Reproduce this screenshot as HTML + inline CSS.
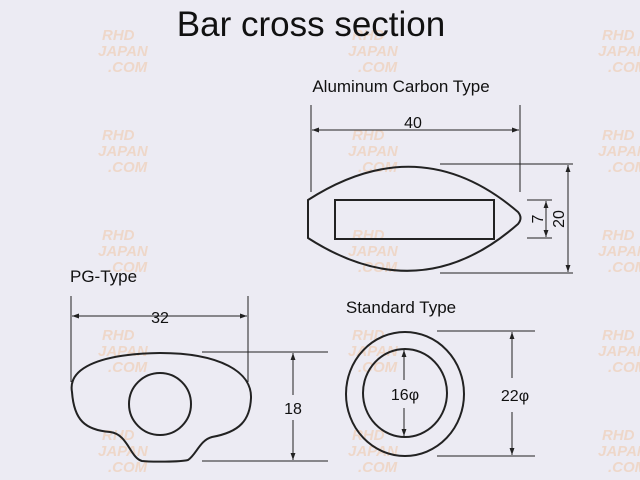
<!DOCTYPE html>
<html><head><style>
html,body{margin:0;padding:0;background:#ecebf3;}
svg{display:block;font-family:"Liberation Sans",sans-serif;}
.w{fill:#f0c8a8;font-style:italic;font-weight:bold;font-size:15px;opacity:0.55;}
</style></head><body>
<svg width="640" height="480" viewBox="0 0 640 480">
<defs>
<marker id="a" viewBox="0 0 10 10" refX="10" refY="5" markerWidth="7" markerHeight="7" orient="auto-start-reverse"><path d="M0,1.5L10,5L0,8.5z" fill="#222"/></marker>
<g id="wm"><text class="w" x="0" y="0">RHD</text><text class="w" x="-4" y="16">JAPAN</text><text class="w" x="6" y="32">.COM</text></g>
</defs>
<g>
<use href="#wm" x="102" y="40"/><use href="#wm" x="352" y="40"/><use href="#wm" x="602" y="40"/>
<use href="#wm" x="102" y="140"/><use href="#wm" x="352" y="140"/><use href="#wm" x="602" y="140"/>
<use href="#wm" x="102" y="240"/><use href="#wm" x="352" y="240"/><use href="#wm" x="602" y="240"/>
<use href="#wm" x="102" y="340"/><use href="#wm" x="352" y="340"/><use href="#wm" x="602" y="340"/>
<use href="#wm" x="102" y="440"/><use href="#wm" x="352" y="440"/><use href="#wm" x="602" y="440"/>
</g>
<text x="311" y="36" font-size="35" text-anchor="middle" fill="#111">Bar cross section</text>
<text x="401" y="92" font-size="17" text-anchor="middle" fill="#111">Aluminum Carbon Type</text>
<text x="70" y="282" font-size="17" fill="#111">PG-Type</text>
<text x="401" y="313" font-size="17" text-anchor="middle" fill="#111">Standard Type</text>
<g stroke="#222" fill="none">
<path d="M308,200 Q420,128 518,212 Q523,218 518,224 Q420,310 308,238 Z" stroke-width="2"/>
<rect x="335" y="200" width="159" height="39" stroke-width="2"/>
<g stroke-width="1">
<line x1="311" y1="105" x2="311" y2="192"/><line x1="520" y1="105" x2="520" y2="192"/>
<line x1="312" y1="130" x2="519" y2="130" marker-start="url(#a)" marker-end="url(#a)"/>
<line x1="440" y1="164" x2="573" y2="164"/><line x1="440" y1="273" x2="573" y2="273"/>
<line x1="568" y1="165" x2="568" y2="272" marker-start="url(#a)" marker-end="url(#a)"/>
<line x1="527" y1="200" x2="552" y2="200"/><line x1="527" y1="238" x2="552" y2="238"/>
<line x1="546" y1="201" x2="546" y2="237" marker-start="url(#a)" marker-end="url(#a)"/>
</g>
<path d="M72,392 C68,370 95,354 160,353 C220,353 252,372 251,398 C250,420 240,432 212,437 C200,440 196,455 188,460 C180,462 150,462 142,461 C130,458 128,434 110,432 C85,430 74,420 72,392 Z" stroke-width="2"/>
<circle cx="160" cy="404" r="31" stroke-width="2"/>
<g stroke-width="1">
<line x1="71" y1="296" x2="71" y2="382"/><line x1="248" y1="296" x2="248" y2="382"/>
<line x1="72" y1="316" x2="247" y2="316" marker-start="url(#a)" marker-end="url(#a)"/>
<line x1="202" y1="352" x2="328" y2="352"/><line x1="202" y1="461" x2="328" y2="461"/>
<line x1="293" y1="353" x2="293" y2="395" marker-start="url(#a)"/>
<line x1="293" y1="420" x2="293" y2="460" marker-end="url(#a)"/>
</g>
<ellipse cx="405" cy="394" rx="59" ry="62" stroke-width="2"/>
<ellipse cx="405" cy="393" rx="42" ry="44" stroke-width="2"/>
<g stroke-width="1">
<line x1="437" y1="331" x2="535" y2="331"/><line x1="437" y1="456" x2="535" y2="456"/>
<line x1="512" y1="332" x2="512" y2="378" marker-start="url(#a)"/>
<line x1="512" y1="412" x2="512" y2="455" marker-end="url(#a)"/>
<line x1="404" y1="350" x2="404" y2="380" marker-start="url(#a)"/>
<line x1="404" y1="408" x2="404" y2="436" marker-end="url(#a)"/>
</g>
</g>
<g fill="#111" font-size="16" text-anchor="middle">
<text x="413" y="128">40</text>
<text x="160" y="323">32</text>
<text x="293" y="414">18</text>
<text x="405" y="400">16φ</text>
<text x="515" y="401">22φ</text>
<text transform="translate(564,219) rotate(-90)">20</text>
<text transform="translate(543,219) rotate(-90)">7</text>
</g>
</svg>
</body></html>
